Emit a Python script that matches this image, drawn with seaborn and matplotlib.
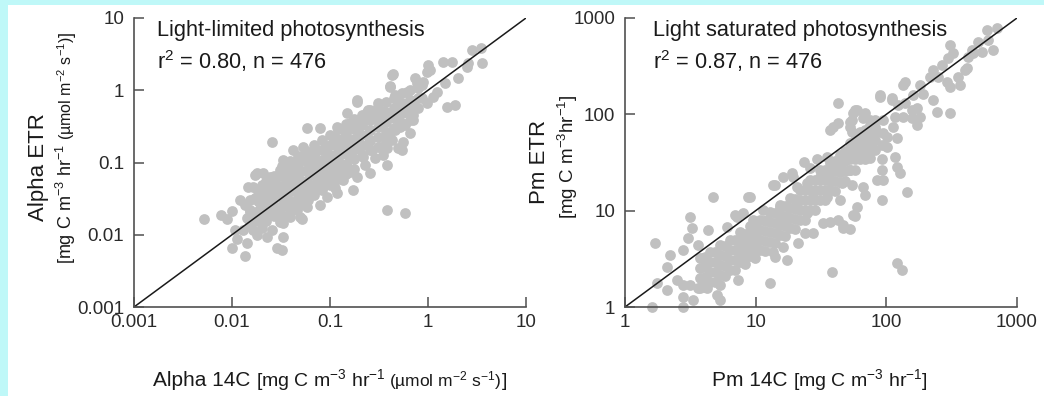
import matplotlib
matplotlib.use("Agg")
import matplotlib.pyplot as plt
import seaborn as sns
from matplotlib.patches import Rectangle
from matplotlib.ticker import NullLocator

# ---------------- data ----------------
alpha_14c = [
    2.81, 3.47, 3.56, 2.50, 1.76, 2.02, 1.49, 1.0, 1.05, 0.736, 0.889, 0.44, 0.41, 0.46, 0.611,
    1.24, 1.12, 1.89, 0.309, 0.244, 0.288, 0.364, 0.483, 0.556, 0.703, 0.868, 0.977, 0.518, 0.41,
    0.324, 0.256, 0.239, 0.382, 0.494, 0.556, 0.655, 0.703, 2.56, 1.42, 0.977, 0.868, 0.429, 0.189,
    1.56, 0.655, 0.0256, 0.0582, 0.0791, 0.189, 0.41, 0.483, 0.773, 0.149, 0.239, 0.347, 0.118,
    0.160, 0.202, 0.518, 0.703, 0.382, 0.543, 0.0419, 0.053, 0.0736, 0.107, 0.149, 0.202, 0.256,
    0.324, 0.0331, 0.046, 0.0671, 0.0931, 0.126, 0.172, 0.217, 0.347, 0.382, 0.018, 0.0244, 0.0309,
    0.0419, 0.0582, 0.0791, 0.107, 0.149, 0.189, 0.256, 0.0164, 0.0217, 0.0288, 0.0391, 0.053,
    0.0736, 0.1, 0.136, 0.172, 0.0193, 0.0262, 0.0364, 0.0494, 0.0671, 0.0931, 0.118, 0.0791,
    0.0494, 0.0391, 0.0288, 0.0207, 0.0331, 0.382, 0.582, 0.00518, 0.00773, 0.0089, 0.010, 0.0121,
    0.0146, 0.0172, 0.0207, 0.0244, 0.0233, 0.0193, 0.0153, 0.0142, 0.0172, 0.0217, 0.0262, 0.0331,
    0.0309, 0.0391, 0.046, 0.0364, 0.0419, 0.0518, 0.0391, 0.0309, 0.0256, 0.0202, 0.0164, 0.0129,
    0.0107, 0.0112, 0.010, 0.0142, 0.0136, 0.0288, 0.0324, 0.0331, 0.0228, 0.018, 0.046, 0.0582,
    0.0202, 0.0275, 0.0347, 0.0440, 0.0556, 0.0703, 0.089, 0.112, 0.142, 0.180, 0.228, 0.288,
    0.364, 0.46, 0.582, 0.0202, 0.0275, 0.0347, 0.0471, 0.0625, 0.0849, 0.121, 0.160, 0.202,
    0.268, 0.429, 0.46, 0.582, 0.0655, 0.089, 0.126, 0.160, 0.228, 0.288, 0.0828, 0.112, 0.0597,
    0.044, 0.0233, 0.0172, 0.0136, 0.0309, 0.0494, 0.0625, 0.089, 0.133, 0.180, 0.1,
    # dense core
    0.0153, 0.0153, 0.0153,
    0.0184, 0.0184, 0.0184, 0.0184,
    0.0222, 0.0222, 0.0222, 0.0222, 0.0222,
    0.0268, 0.0268, 0.0268, 0.0268, 0.0268,
    0.0324, 0.0324, 0.0324, 0.0324, 0.0324, 0.0324,
    0.0391, 0.0391, 0.0391, 0.0391, 0.0391, 0.0391,
    0.0472, 0.0472, 0.0472, 0.0472, 0.0472, 0.0472,
    0.0569, 0.0569, 0.0569, 0.0569, 0.0569, 0.0569,
    0.0687, 0.0687, 0.0687, 0.0687, 0.0687, 0.0687,
    0.0829, 0.0829, 0.0829, 0.0829, 0.0829, 0.0829,
    0.100, 0.100, 0.100, 0.100, 0.100, 0.100,
    0.121, 0.121, 0.121, 0.121, 0.121, 0.121,
    0.146, 0.146, 0.146, 0.146, 0.146, 0.146,
    0.176, 0.176, 0.176, 0.176, 0.176, 0.176,
    0.212, 0.212, 0.212, 0.212, 0.212,
    0.256, 0.256, 0.256, 0.256, 0.256,
    0.309, 0.309, 0.309, 0.309, 0.309,
    0.373, 0.373, 0.373, 0.373, 0.373,
    0.450, 0.450, 0.450, 0.450,
    0.543, 0.543, 0.543, 0.543,
    0.655, 0.655, 0.655, 0.655,
    0.791, 0.791, 0.791,
]
alpha_etr = [
    3.63, 3.87, 2.40, 2.11, 2.47, 1.49, 1.27, 2.25, 1.92, 1.49, 1.31, 1.69, 1.15, 0.863, 0.95,
    0.95, 0.81, 0.628, 0.669, 0.535, 0.456, 0.502, 0.628, 0.57, 0.669, 0.785, 0.669, 0.365, 0.265,
    0.332, 0.283, 0.175, 0.159, 0.159, 0.193, 0.257, 0.456, 2.40, 2.47, 1.80, 1.19, 1.63, 0.736,
    0.589, 0.736, 0.193, 0.301, 0.301, 0.691, 1.11, 0.81, 1.27, 0.486, 0.502, 0.502, 0.311,
    0.353, 0.353, 0.311, 0.389, 0.219, 0.150, 0.150, 0.164, 0.150, 0.187, 0.206, 0.241, 0.206,
    0.164, 0.109, 0.0987, 0.109, 0.116, 0.136, 0.150, 0.120, 0.127, 0.0927, 0.0718, 0.0632, 0.079,
    0.0632, 0.079, 0.0869, 0.079, 0.0869, 0.0632, 0.0718, 0.0459, 0.0417, 0.0489, 0.0459, 0.0521,
    0.0574, 0.0521, 0.0574, 0.0417, 0.0303, 0.0303, 0.0334, 0.0334, 0.0379, 0.0334, 0.0379, 0.0259,
    0.0177, 0.0243, 0.02, 0.0177, 0.0146, 0.0221, 0.02, 0.0166, 0.0188, 0.0166, 0.0214, 0.0303,
    0.0459, 0.0673, 0.0718, 0.0521, 0.0379, 0.0275, 0.0221, 0.0171, 0.0171, 0.02, 0.0243, 0.0303,
    0.0417, 0.0574, 0.079, 0.0987, 0.0459, 0.0166, 0.0177, 0.015, 0.0117, 0.0124, 0.0117, 0.0117,
    0.0117, 0.00875, 0.00656, 0.0077, 0.00508, 0.00656, 0.00615, 0.00933, 0.00933, 0.00994, 0.0221, 0.0243,
    0.0489, 0.0612, 0.0741, 0.0927, 0.116, 0.140, 0.164, 0.219, 0.265, 0.301, 0.389, 0.415,
    0.389, 0.456, 0.502, 0.0356, 0.0379, 0.0489, 0.0612, 0.0673, 0.0741, 0.102, 0.120, 0.164,
    0.150, 0.206, 0.283, 0.332, 0.0841, 0.0987, 0.0632, 0.0741, 0.0927, 0.116, 0.0445, 0.0445, 0.0303,
    0.0259, 0.0259, 0.0323, 0.0259, 0.0207, 0.0417, 0.0417, 0.0574, 0.159, 0.206, 0.127,
    # dense core
    0.0303, 0.0207, 0.0141,
    0.0404, 0.0294, 0.0214, 0.0155,
    0.0556, 0.0404, 0.0294, 0.0214, 0.0155,
    0.0652, 0.0474, 0.0345, 0.0251, 0.0182,
    0.0897, 0.0652, 0.0474, 0.0345, 0.0251, 0.0182,
    0.105, 0.0765, 0.0556, 0.0404, 0.0294, 0.0214,
    0.123, 0.0897, 0.0652, 0.0474, 0.0345, 0.0251,
    0.145, 0.105, 0.0765, 0.0556, 0.0404, 0.0294,
    0.175, 0.127, 0.0926, 0.0673, 0.0489, 0.0356,
    0.206, 0.150, 0.109, 0.079, 0.0574, 0.0417,
    0.241, 0.175, 0.127, 0.0926, 0.0673, 0.0489,
    0.292, 0.212, 0.154, 0.112, 0.0815, 0.0593,
    0.342, 0.249, 0.181, 0.132, 0.0956, 0.0695,
    0.402, 0.292, 0.212, 0.154, 0.112, 0.0815,
    0.456, 0.332, 0.241, 0.175, 0.127,
    0.535, 0.389, 0.283, 0.206, 0.150,
    0.589, 0.428, 0.311, 0.226, 0.164,
    0.691, 0.502, 0.365, 0.265, 0.193,
    0.785, 0.570, 0.415, 0.301,
    0.920, 0.669, 0.486, 0.353,
    1.013, 0.736, 0.535, 0.389,
    1.079, 0.785, 0.570,
]

pm_14c = [
    1.61, 2.78, 2.78, 3.32, 5.06, 5.33, 1.76, 2.10, 2.50, 2.78, 3.14, 3.62, 4.24, 3.95, 7.32, 12.9,
    5.33, 2.10, 2.21, 1.70, 2.78, 3.03, 3.26, 3.14, 4.32, 3.62, 3.95, 4.72, 8.73, 6.95, 8.00, 6.03,
    13.6, 16.2, 19.3, 14.05, 17.4, 13.6, 38.4, 121, 132, 21.1, 16.2, 23.8, 27.5, 32.8, 37.0, 42.6,
    46.6, 52.7, 55.6, 59.6, 68.6, 92.5, 94.2, 144, 127, 42.6, 37.0, 42.6, 52.7, 57.5, 68.6, 54.6,
    71.1, 84.7, 89.3, 110, 134, 123, 101, 92.5, 77.6, 60.6, 74.9, 92.5, 116, 121, 92.5, 84.7,
    23.6, 26.0, 29.5, 35.1, 44.2, 52.7, 19.0, 14.05, 9.05, 20.7, 24.7, 31.0, 37.0, 45.7, 54.6, 66.3,
    27.5, 35.1, 44.2, 11.4, 15.3, 20.7, 7.20, 9.54, 12.2, 16.2, 24.7, 46.6,
    588, 701, 599, 502, 538, 451, 307, 323, 296, 266, 227, 248, 216, 353, 399, 421, 291, 307, 366,
    139, 181, 191, 160, 89.3, 110, 139, 172, 157, 181, 244, 307, 59.6, 54.6, 74.9, 94.2, 116, 112,
    94.2, 79.0, 121, 72.3, 101, 172, 654, 460, 413, 55.6, 39.1, 52.7, 66.3, 81.8, 134, 157, 227, 57.5,
    # dense core
    3.75, 3.75, 3.75, 3.75, 4.47, 4.47, 4.47, 4.47, 5.33, 5.33, 5.33, 5.33, 6.36, 6.36, 6.36, 6.36,
    7.58, 7.58, 7.58, 7.58, 9.05, 9.05, 9.05, 9.05, 10.8, 10.8, 10.8, 10.8, 12.9, 12.9, 12.9, 12.9,
    15.3, 15.3, 15.3, 15.3, 18.3, 18.3, 18.3, 18.3, 21.8, 21.8, 21.8, 21.8, 26.0, 26.0, 26.0, 26.0,
    31.0, 31.0, 31.0, 31.0, 37.0, 37.0, 37.0, 37.0, 44.2, 44.2, 44.2, 44.2, 52.7, 52.7, 52.7, 52.7,
    62.8, 62.8, 62.8, 62.8, 74.9, 74.9, 74.9, 74.9,
    4.09, 4.09, 4.09, 4.09, 4.88, 4.88, 4.88, 4.88, 5.82, 5.82, 5.82, 5.82, 6.95, 6.95, 6.95, 6.95,
    8.28, 8.28, 8.28, 8.28, 9.88, 9.88, 9.88, 9.88, 11.8, 11.8, 11.8, 11.8, 14.0, 14.0, 14.0, 14.0,
    16.8, 16.8, 16.8, 16.8, 20.0, 20.0, 20.0, 20.0, 23.8, 23.8, 23.8, 23.8, 28.4, 28.4, 28.4, 28.4,
    33.9, 33.9, 33.9, 33.9, 40.4, 40.4, 40.4, 40.4, 48.2, 48.2, 48.2, 48.2, 57.5, 57.5, 57.5, 57.5,
    68.6, 68.6, 68.6, 68.6, 81.8, 81.8, 81.8, 81.8,
]
pm_etr = [
    1.0, 1.0, 1.27, 1.18, 1.33, 1.18, 1.77, 1.50, 1.91, 1.69, 1.69, 1.57, 1.57, 1.82, 1.91, 1.77,
    1.69, 2.60, 3.47, 4.62, 3.91, 5.21, 6.61, 8.60, 6.30, 4.41, 3.23, 13.9, 13.9, 9.03, 9.46, 6.77,
    18.5, 22.4, 22.4, 3.31, 3.08, 3.73, 2.31, 2.86, 2.42, 4.62, 4.20, 5.87, 5.87, 7.45, 7.63, 8.01,
    6.61, 6.45, 9.03, 10.9, 14.6, 12.9, 20.8, 15.6, 24.6, 131, 68.9, 81.4, 83.4, 111, 103, 65.7,
    61.1, 65.7, 152, 141, 202, 125, 58.3, 48.1, 44.8, 40.9, 35.3, 34.4, 36.1, 28.4, 26.5, 20.8,
    32.0, 27.8, 34.4, 36.1, 31.3, 26.5, 24.6, 18.5, 13.9, 17.6, 19.4, 22.4, 20.8, 19.4, 18.5, 17.6,
    15.3, 13.9, 12.9, 10.2, 10.9, 12.0, 8.60, 8.01, 8.01, 8.60, 9.46, 7.10,
    752, 789, 592, 565, 445, 466, 526, 434, 385, 326, 289, 245, 245, 245, 289, 395, 217, 193, 202,
    217, 202, 163, 159, 159, 148, 131, 117, 91.8, 94.0, 106, 103, 111, 87.5, 87.5, 87.5, 94.0, 74.0,
    64.1, 54.2, 56.9, 45.9, 45.9, 77.6, 466, 434, 303, 103, 74.0, 74.0, 91.8, 74.0, 94.0, 111, 141, 8.81,
    # dense core
    3.23, 2.54, 2.00, 1.57, 3.73, 2.93, 2.31, 1.82, 4.41, 3.47, 2.73, 2.15, 4.96, 3.91, 3.08, 2.42,
    6.01, 4.73, 3.73, 2.93, 6.94, 5.46, 4.30, 3.39, 8.01, 6.30, 4.96, 3.91, 9.70, 7.63, 6.01, 4.73,
    11.5, 9.03, 7.10, 5.60, 13.6, 10.7, 8.40, 6.61, 16.4, 12.9, 10.2, 8.01, 20.8, 16.4, 12.9, 10.2,
    26.5, 20.8, 16.4, 12.9, 31.3, 25.2, 20.3, 16.4, 37.9, 30.5, 25.2, 19.9, 50.4, 40.9, 34.4, 26.5,
    65.7, 51.7, 42.7, 34.4, 77.6, 64.1, 54.2, 42.7,
    3.31, 2.60, 2.05, 1.61, 3.73, 2.93, 2.31, 1.82, 4.30, 3.39, 2.67, 2.10, 4.96, 3.91, 3.08, 2.42,
    5.73, 4.51, 3.55, 2.80, 6.61, 5.21, 4.10, 3.23, 7.82, 6.16, 4.85, 3.82, 9.46, 7.45, 5.87, 4.62,
    11.2, 8.81, 6.94, 5.46, 13.2, 10.4, 8.20, 6.45, 16.4, 12.9, 10.2, 8.01, 20.8, 16.4, 12.9, 10.2,
    26.5, 20.8, 16.4, 12.9, 32.8, 25.8, 20.3, 16.0, 41.7, 32.8, 25.8, 20.3, 54.2, 42.7, 34.4, 26.5,
    68.9, 54.2, 42.7, 34.4, 87.5, 68.9, 54.2, 42.7,
]

alpha_ticks = [0.001, 0.01, 0.1, 1, 10]
alpha_tick_labels = ["0.001", "0.01", "0.1", "1", "10"]
pm_ticks = [1, 10, 100, 1000]
pm_tick_labels = ["1", "10", "100", "1000"]

panel_titles = ["Light-limited photosynthesis", "Light saturated photosynthesis"]
panel_stats = [r"r$\mathregular{^2}$ = 0.80, n = 476", r"r$\mathregular{^2}$ = 0.87, n = 476"]
x_main = ["Alpha 14C", "Pm 14C"]
y_main = ["Alpha ETR", "Pm ETR"]
unit_mg = r"[mg C m$\mathregular{^{-3}}$ hr$\mathregular{^{-1}}$"
unit_mg_tight = r"[mg C m$\mathregular{^{-3}}$hr$\mathregular{^{-1}}$"
unit_umol = r"(µmol m$\mathregular{^{-2}}$ s$\mathregular{^{-1}}$)"

# ---------------- style ----------------
sns.set_style("ticks")
plt.rcParams["font.family"] = ["Liberation Sans", "DejaVu Sans"]
plt.rcParams["mathtext.fontset"] = "custom"
plt.rcParams["mathtext.rm"] = "Liberation Sans"
plt.rcParams["mathtext.it"] = "Liberation Sans:italic"
plt.rcParams["mathtext.bf"] = "Liberation Sans:bold"
plt.rcParams["xtick.direction"] = "in"
plt.rcParams["ytick.direction"] = "in"

W, H = 1044, 396
fig = plt.figure(figsize=(W / 100, H / 100), dpi=100)
fig.patch.set_facecolor("white")
cyan = "#bff8f8"
fig.add_artist(Rectangle((0, 1 - 5 / H), 1, 5 / H, transform=fig.transFigure,
                         facecolor=cyan, edgecolor="none", zorder=-10))
fig.add_artist(Rectangle((0, 0), 8 / W, 1, transform=fig.transFigure,
                         facecolor=cyan, edgecolor="none", zorder=-10))

dot_color = "#c0c0c0"
spine_color = "#505050"
text_color = "#1a1a1a"

ax1 = fig.add_axes([134 / W, 1 - 307 / H, 392 / W, 289 / H])
ax2 = fig.add_axes([625 / W, 1 - 307 / H, 392 / W, 289 / H])

panels = [
    (ax1, alpha_14c, alpha_etr, alpha_ticks, alpha_tick_labels, 157),
    (ax2, pm_14c, pm_etr, pm_ticks, pm_tick_labels, 653),
]

for i, (ax, xs, ys, ticks, labels, title_px) in enumerate(panels):
    ax.set_xscale("log")
    ax.set_yscale("log")
    sns.scatterplot(x=xs, y=ys, ax=ax, color=dot_color, s=60, linewidth=0,
                    zorder=2, clip_on=False)
    ax.axline((ticks[0], ticks[0]), (ticks[-1], ticks[-1]), color="#1a1a1a",
              lw=1.1, zorder=3)
    ax.set_xlim(ticks[0], ticks[-1])
    ax.set_ylim(ticks[0], ticks[-1])
    ax.set_xticks(ticks, labels)
    ax.set_yticks(ticks, labels)
    ax.xaxis.set_minor_locator(NullLocator())
    ax.yaxis.set_minor_locator(NullLocator())
    ax.patch.set_alpha(0)
    for side in ("top", "right"):
        ax.spines[side].set_visible(False)
    for side in ("left", "bottom"):
        ax.spines[side].set_color(spine_color)
        ax.spines[side].set_linewidth(1.2)
        ax.spines[side].set_zorder(4)
    ax.tick_params(axis="both", which="major", direction="in", length=7.5, width=1.1,
                   color=spine_color, labelsize=13.5, labelcolor="#2a2a2a")
    ax.tick_params(axis="y", pad=7)
    ax.tick_params(axis="x", pad=5)
    ax.set_xlabel("")
    ax.set_ylabel("")

    fig.text(title_px / W, 1 - 36 / H, panel_titles[i], fontsize=15.7,
             ha="left", va="baseline", color=text_color)
    fig.text(title_px / W, 1 - 69 / H, panel_stats[i], fontsize=15.7,
             ha="left", va="baseline", color=text_color)


def chain_text(pieces, center_px, base_px, rotation=0):
    """Place text pieces of different sizes one after another.
    pieces: (text, size, gap_px_before); center_px: centre along the run,
    base_px: baseline position across the run (pixels from top/left)."""
    renderer = fig.canvas.get_renderer()
    arts, lengths = [], []
    for txt, size, gap in pieces:
        t = fig.text(0, 0, txt, fontsize=size, rotation=rotation,
                     rotation_mode="anchor", ha="left", va="baseline",
                     color=text_color)
        bb = t.get_window_extent(renderer)
        arts.append(t)
        lengths.append(bb.width if rotation == 0 else bb.height)
    total = sum(lengths) + sum(p[2] for p in pieces[1:])
    pos = center_px - total / 2
    for k, (t, ln) in enumerate(zip(arts, lengths)):
        if k > 0:
            pos += pieces[k][2]
        if rotation == 0:
            t.set_position((pos / W, 1 - base_px / H))
        else:
            t.set_position((base_px / W, 1 - (pos + ln) / H + ln / H))
            # rotated text runs upward from its anchor
            t.set_position((base_px / W, (H - (center_px + total / 2) + (pos - (center_px - total / 2))) / H))
        pos += ln


# x labels
chain_text([(x_main[0], 15, 0), (unit_mg, 14, 5), (unit_umol, 12.5, 4), ("]", 14, 0)],
           330, 386)
chain_text([(x_main[1], 15, 0), (unit_mg + "]", 14, 5)], 820, 386)

# y labels (rotated, run upward)
chain_text([(y_main[0], 16, 0)], 167, 44, rotation=90)
chain_text([(unit_mg, 13, 0), (unit_umol, 11.5, 4), ("]", 13, 0)], 148, 72, rotation=90)
chain_text([(y_main[1], 16, 0)], 162, 545, rotation=90)
chain_text([(unit_mg_tight + "]", 13.5, 0)], 157, 574, rotation=90)

fig.savefig("out.png", dpi=100, facecolor="white")
